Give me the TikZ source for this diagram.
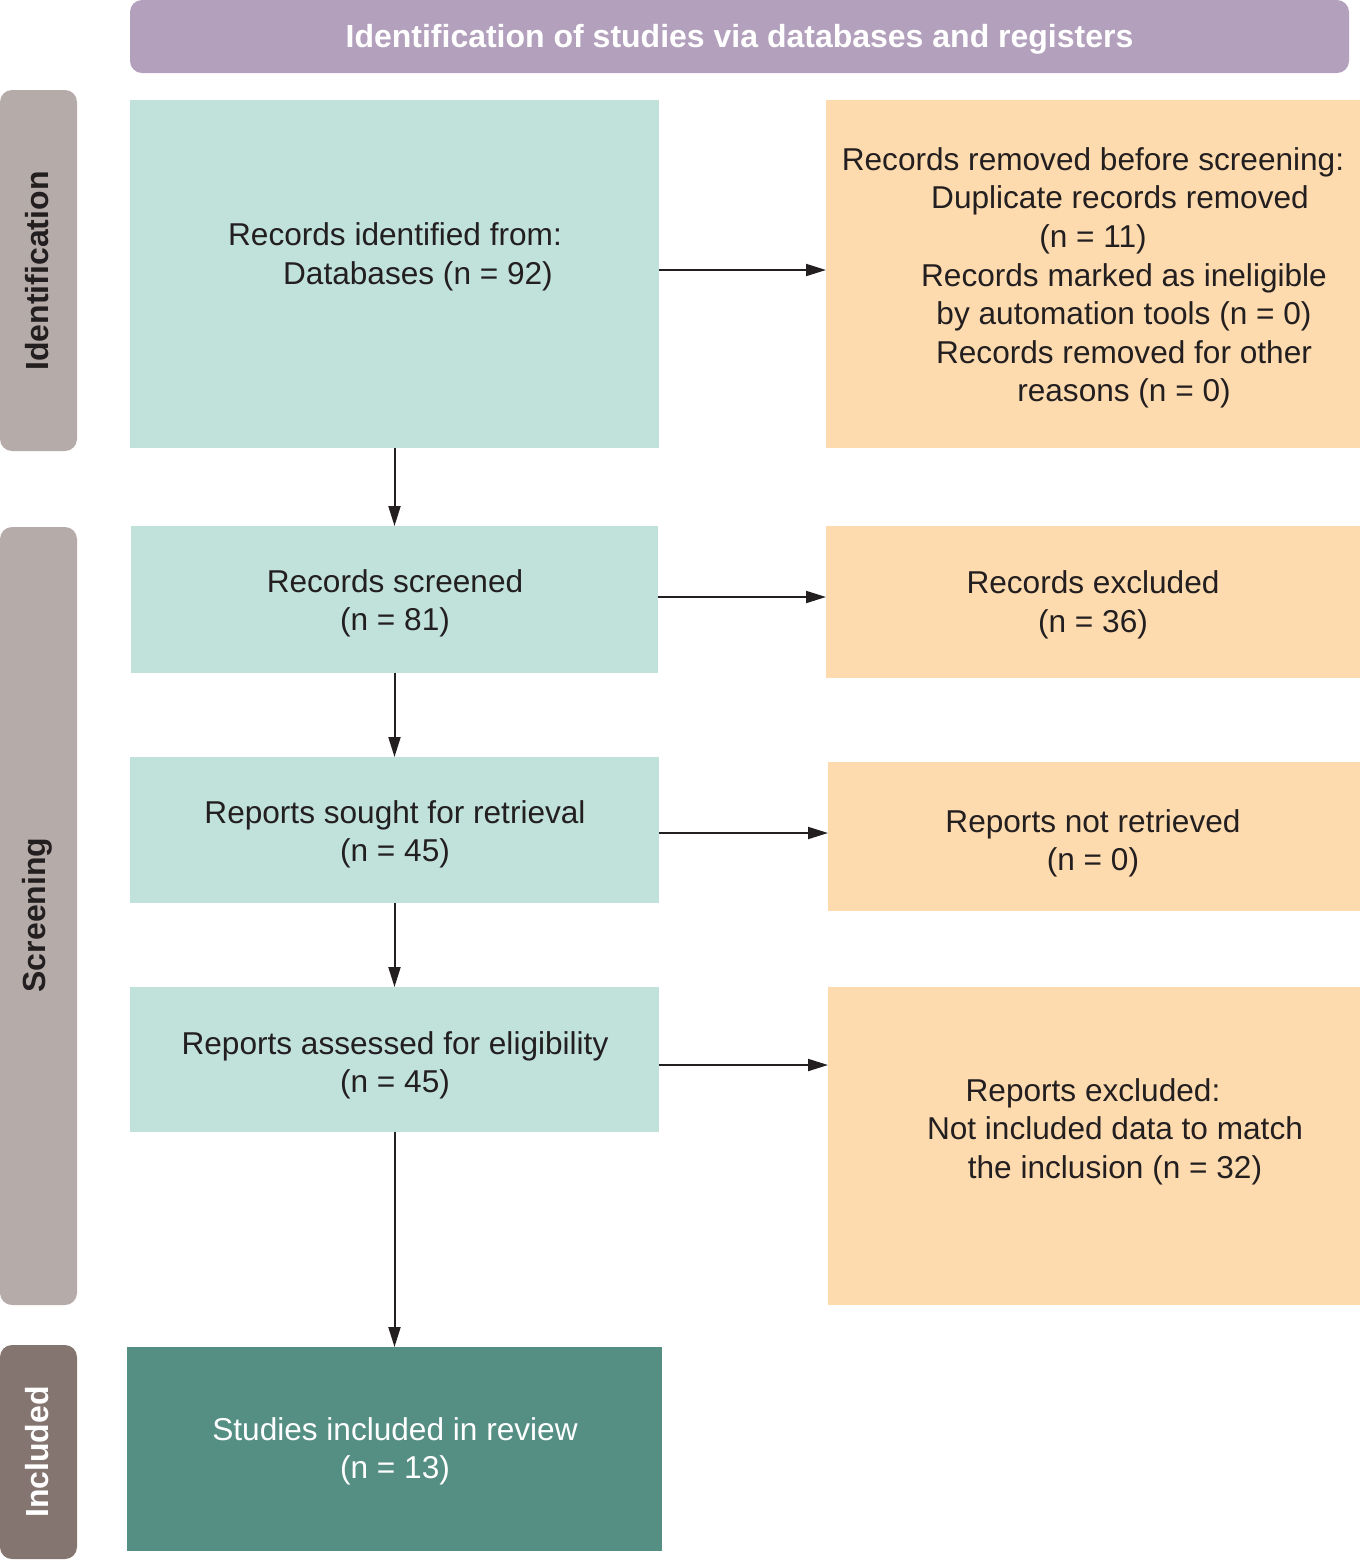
\documentclass[tikz,border=0pt]{standalone}
\usepackage{fontspec}
\setmainfont{Liberation Sans}
\usetikzlibrary{arrows.meta,positioning}
\definecolor{tealL}{HTML}{C0E2DA}
\definecolor{tealD}{HTML}{558F84}
\definecolor{orng}{HTML}{FDDBAE}
\definecolor{purp}{HTML}{B3A0BC}
\definecolor{sideg}{HTML}{B5ACA9}
\definecolor{sided}{HTML}{847570}
\definecolor{txt}{HTML}{231F20}
\begin{document}
\begin{tikzpicture}[x=0.5pt,y=-0.5pt,
  shapebox/.style={inner sep=0pt, outer sep=0pt},
  bodytext/.style={font=\fontsize{15.8pt}{19.3pt}\selectfont, text=txt, align=center, inner sep=0pt},
  sidetext/.style={font=\fontsize{16pt}{19pt}\selectfont\bfseries, rotate=90, inner sep=0pt},
  arr/.style={line width=1pt, draw=txt, -{Triangle[length=10pt,width=6pt]}}
]
\useasboundingbox (0,0) rectangle (1360,1560);
% header
\fill[purp, rounded corners=6pt] (130,0) rectangle (1349,73);
\node[font=\fontsize{16pt}{19pt}\selectfont\bfseries, text=white, inner sep=0pt] (head) at (739.5,39) {Identification of studies via databases and registers};
% side labels
\fill[sideg, rounded corners=6pt] (0,90) rectangle (77,451);
\node[sidetext, text=txt] (sid) at (37,271) {Identification};
\fill[sideg, rounded corners=6pt] (0,527) rectangle (77,1305);
\node[sidetext, text=txt] (sscr) at (37,915) {Screening};
\fill[sided, rounded corners=6pt] (0,1345) rectangle (77,1559);
\node[sidetext, text=white] (sinc) at (37,1452) {Included};
% teal boxes
\node[shapebox, fill=tealL, minimum width=264.5pt, minimum height=174pt] (b1) at (394.5,274) {};
\node[bodytext] (t1) at (395,257) {Records identified from:\\\hspace*{23pt}Databases (n = 92)};
\node[shapebox, fill=tealL, minimum width=263.5pt, minimum height=73.5pt] (b2) at (394.5,599.5) {};
\node[bodytext] (t2) at (395,603.5) {Records screened\\(n = 81)};
\node[shapebox, fill=tealL, minimum width=264.5pt, minimum height=73pt] (b3) at (394.5,830) {};
\node[bodytext] (t3) at (395,834.5) {Reports sought for retrieval\\(n = 45)};
\node[shapebox, fill=tealL, minimum width=264.5pt, minimum height=72.5pt] (b4) at (394.5,1059.5) {};
\node[bodytext] (t4) at (395,1065.5) {Reports assessed for eligibility\\(n = 45)};
\node[shapebox, fill=tealD, minimum width=267.5pt, minimum height=102pt] (b5) at (394.5,1449) {};
\node[bodytext, text=white] (t5) at (395,1451.5) {Studies included in review\\(n = 13)};
% orange boxes
\node[shapebox, fill=orng, minimum width=267pt, minimum height=174pt] (o1) at (1093,274) {};
\node[bodytext] (u1) at (1093,278) {Records removed before screening:\\
\hspace*{27pt}Duplicate records removed\\
(n = 11)\\
\hspace*{31pt}Records marked as ineligible\\
\hspace*{31pt}by automation tools (n = 0)\\
\hspace*{31pt}Records removed for other\\
\hspace*{31pt}reasons (n = 0)};
\node[shapebox, fill=orng, minimum width=267pt, minimum height=76pt] (o2) at (1093,602) {};
\node[bodytext] (u2) at (1093,605) {Records excluded\\(n = 36)};
\node[shapebox, fill=orng, minimum width=266pt, minimum height=74.5pt] (o3) at (1094,836.5) {};
\node[bodytext] (u3) at (1093,843.5) {Reports not retrieved\\(n = 0)};
\node[shapebox, fill=orng, minimum width=266pt, minimum height=159pt] (o4) at (1094,1146) {};
\node[bodytext] (u4) at (1093,1131.5) {Reports excluded:\\
\hspace*{22pt}Not included data to match\\
\hspace*{22pt}the inclusion (n = 32)};
% arrows
\draw[arr] ([yshift=2pt]b1.east) -- ([yshift=2pt]b1.east -| o1.west);
\draw[arr] ([yshift=1.25pt]b2.east) -- ([yshift=1.25pt]b2.east -| o2.west);
\draw[arr] ([yshift=-1.5pt]b3.east) -- ([yshift=-1.5pt]b3.east -| o3.west);
\draw[arr] ([yshift=-2.75pt]b4.east) -- ([yshift=-2.75pt]b4.east -| o4.west);
\draw[arr] (b1.south) -- (b2.north);
\draw[arr] (b2.south) -- (b3.north);
\draw[arr] (b3.south) -- (b4.north);
\draw[arr] (b4.south) -- (b5.north);
\end{tikzpicture}
\end{document}
